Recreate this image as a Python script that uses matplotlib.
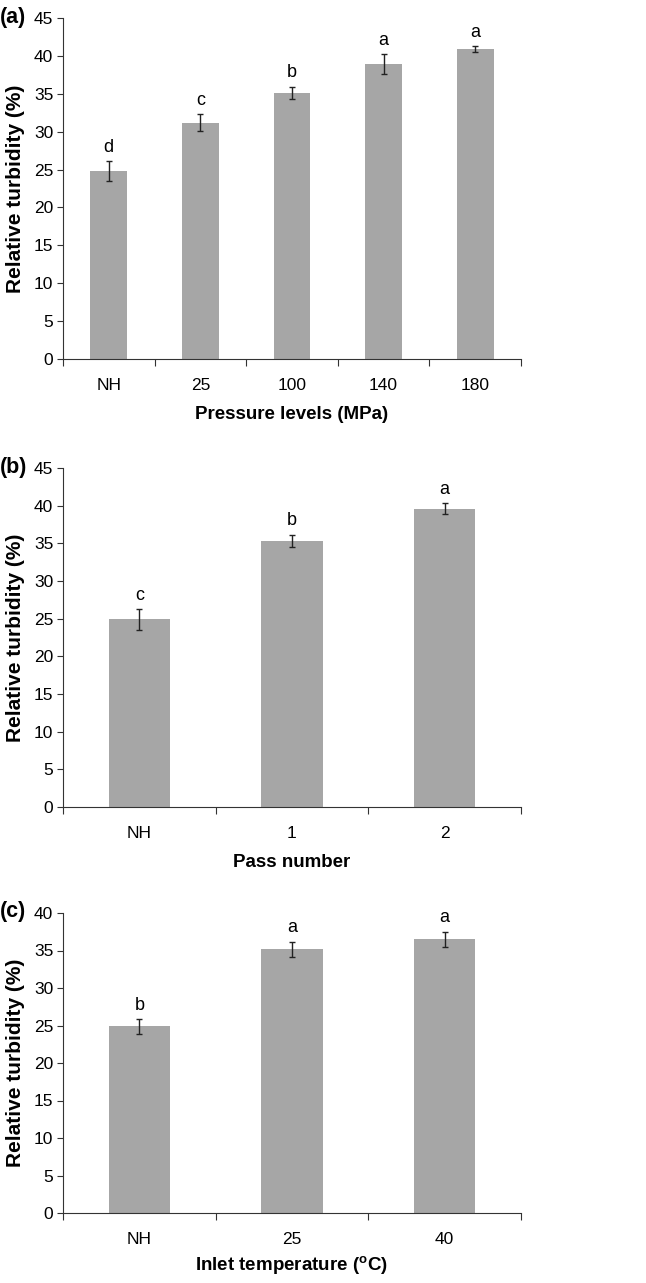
import numpy as np
import matplotlib.pyplot as plt

plt.rcParams['font.family'] = ['Liberation Sans', 'DejaVu Sans']

# panel (a)
press_cats = ['NH', '25', '100', '140', '180']
press_vals = [24.8, 31.2, 35.1, 38.9, 40.9]
press_err = [1.3, 1.1, 0.85, 1.35, 0.4]
press_let = ['d', 'c', 'b', 'a', 'a']

# panel (b)
pass_cats = ['NH', '1', '2']
pass_vals = [24.9, 35.3, 39.6]
pass_err = [1.35, 0.85, 0.7]
pass_let = ['c', 'b', 'a']

# panel (c)
temp_cats = ['NH', '25', '40']
temp_vals = [24.9, 35.2, 36.5]
temp_err = [1.0, 1.0, 1.0]
temp_let = ['b', 'a', 'a']

W, H = 646, 1283
fig = plt.figure(figsize=(W / 100, H / 100), dpi=100)


def panel(top, bottom, cats, vals, errs, lets, ymax, xlabel, tag, xpad=9):
    ax = fig.add_axes([63 / W, (H - bottom) / H, 458 / W, (bottom - top) / H])
    n = len(cats)
    x = np.arange(n)
    ax.bar(x, vals, width=0.4, color='#a6a6a6', zorder=2)
    ax.errorbar(x, vals, yerr=errs, fmt='none', ecolor='#222222',
                elinewidth=1, capsize=2.5, capthick=1, zorder=3)
    for xi, v, e, l in zip(x, vals, errs, lets):
        ax.text(xi, v + e + 0.7, l, ha='center', va='bottom', fontsize=13)
    ax.set_xlim(-0.5, n - 0.5)
    ax.set_ylim(0, ymax)
    ax.set_yticks(np.arange(0, ymax + 1, 5))
    ax.set_xticks(np.arange(n + 1) - 0.5)
    ax.set_xticklabels([])
    ax.set_xticks(x, minor=True)
    ax.set_xticklabels(cats, minor=True)
    ax.tick_params(axis='x', which='major', length=5, direction='out', color='#333333')
    ax.tick_params(axis='x', which='minor', length=0, pad=14, labelsize=12.5)
    ax.tick_params(axis='y', length=4, direction='out', labelsize=12.5, pad=3, color='#333333')
    for s in ['top', 'right']:
        ax.spines[s].set_visible(False)
    for s in ['left', 'bottom']:
        ax.spines[s].set_color('#333333')
    ax.set_ylabel('Relative turbidity (%)', fontsize=15, fontweight='bold', labelpad=6)
    ax.set_xlabel(xlabel, fontsize=13.5, fontweight='bold', labelpad=xpad)
    fig.text(0 / W, 1 - (top - 1) / H, tag, fontsize=15.5, fontweight='bold', va='center', ha='left')
    return ax


panel(18, 359, press_cats, press_vals, press_err, press_let, 45, 'Pressure levels (MPa)', '(a)')
panel(468, 807, pass_cats, pass_vals, pass_err, pass_let, 45, 'Pass number', '(b)')
panel(913, 1213, temp_cats, temp_vals, temp_err, temp_let, 40, 'Inlet temperature ($\\mathregular{^{o}}$C)', '(c)', xpad=5)

fig.savefig('out.png', dpi=100)
